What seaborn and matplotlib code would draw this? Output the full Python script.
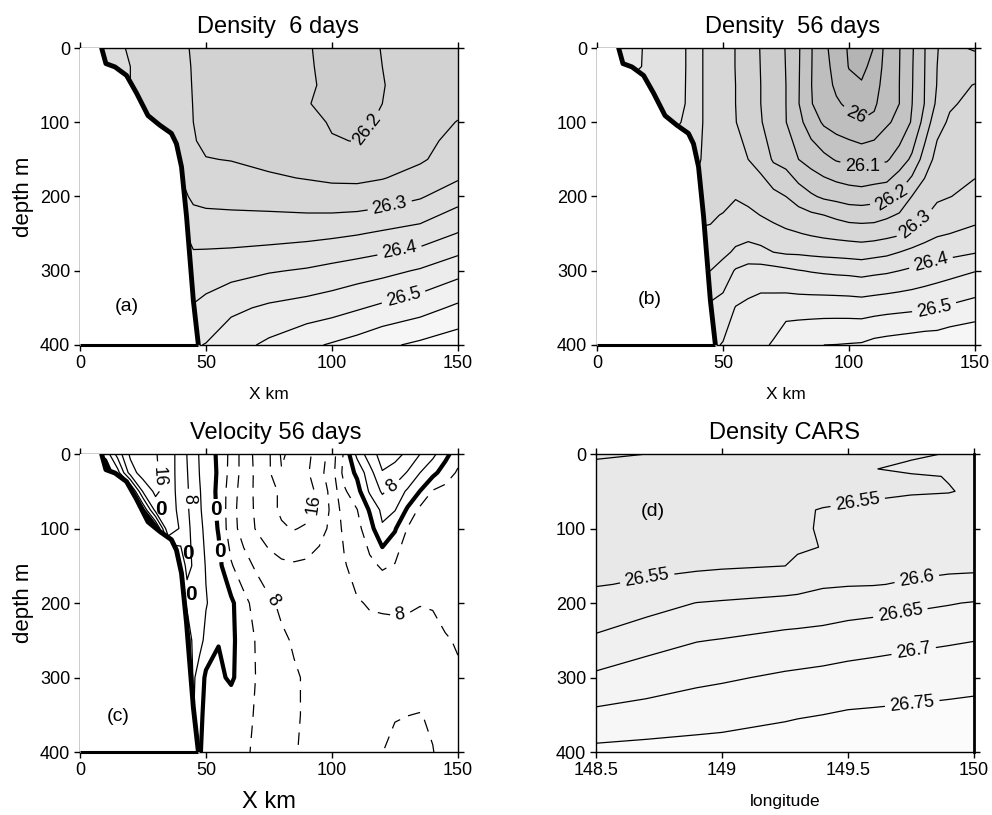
import numpy as np
import matplotlib
matplotlib.use("Agg")
import matplotlib.pyplot as plt
import seaborn as sns

sns.set_style("ticks")
plt.rcParams["font.family"] = ["Liberation Sans", "DejaVu Sans"]
plt.rcParams.update({"text.color": "black", "axes.labelcolor": "black",
                     "xtick.color": "black", "ytick.color": "black"})

# shelf / slope topography used by the model panels (x km, depth m)
COAST_X = [8.6, 10.3, 13.9, 18.5, 22.5, 27.0, 31.7, 36.3, 38.3, 40.3, 42.3, 45.0, 47.0]
COAST_D = [0, 21, 25.5, 37, 61, 91, 104, 115, 129, 160, 227, 340, 400]

# (a) density after 6 days, one row per depth
XA = [0, 10, 20, 30, 40, 45, 50, 60, 75, 90, 100, 110, 120, 135, 150]
ZA = [0, 25, 50, 75, 100, 125, 150, 175, 200, 250, 300, 350, 400]
RHO_A = [
    [26.33, 26.32, 26.295, 26.28, 26.26, 26.245, 26.235, 26.23, 26.22, 26.202, 26.193, 26.19, 26.201, 26.21, 26.22],
    [26.33, 26.32, 26.30, 26.28, 26.262, 26.247, 26.236, 26.23, 26.22, 26.203, 26.193, 26.19, 26.2, 26.21, 26.222],
    [26.34, 26.33, 26.30, 26.28, 26.263, 26.248, 26.238, 26.231, 26.222, 26.204, 26.194, 26.19, 26.199, 26.212, 26.225],
    [26.34, 26.335, 26.31, 26.285, 26.265, 26.249, 26.24, 26.233, 26.225, 26.201, 26.195, 26.192, 26.2, 26.215, 26.235],
    [26.35, 26.34, 26.33, 26.29, 26.27, 26.25, 26.242, 26.236, 26.228, 26.21, 26.197, 26.195, 26.203, 26.225, 26.252],
    [26.36, 26.35, 26.34, 26.31, 26.28, 26.252, 26.244, 26.238, 26.232, 26.215, 26.202, 26.199, 26.21, 26.238, 26.262],
    [26.37, 26.36, 26.35, 26.32, 26.29, 26.256, 26.251, 26.249, 26.24, 26.225, 26.215, 26.213, 26.22, 26.245, 26.27],
    [26.38, 26.37, 26.36, 26.33, 26.30, 26.27, 26.265, 26.26, 26.255, 26.248, 26.243, 26.242, 26.248, 26.265, 26.295],
    [26.39, 26.38, 26.37, 26.34, 26.315, 26.29, 26.285, 26.283, 26.28, 26.272, 26.268, 26.268, 26.275, 26.295, 26.33],
    [26.42, 26.41, 26.40, 26.38, 26.36, 26.335, 26.332, 26.33, 26.33, 26.335, 26.34, 26.347, 26.357, 26.37, 26.402],
    [26.45, 26.44, 26.43, 26.41, 26.39, 26.37, 26.375, 26.382, 26.396, 26.405, 26.415, 26.425, 26.435, 26.455, 26.483],
    [26.47, 26.46, 26.45, 26.43, 26.41, 26.404, 26.415, 26.44, 26.458, 26.47, 26.48, 26.495, 26.51, 26.53, 26.56],
    [26.48, 26.47, 26.46, 26.45, 26.44, 26.445, 26.452, 26.48, 26.51, 26.54, 26.555, 26.57, 26.59, 26.61, 26.63],
]

# (b) density after 56 days, one list per x column (surface -> bottom)
XB = [0, 10, 20, 30, 35, 40, 45, 50, 55, 60, 65, 70, 75, 80, 85, 90, 95, 100, 105, 110, 115, 120, 125, 130, 135, 140, 150]
ZB = [0, 25, 50, 75, 100, 150, 200, 225, 250, 275, 300, 350, 400]
RHO_B_COLS = [
    [26.43, 26.43, 26.42, 26.41, 26.40, 26.37, 26.35, 26.34, 26.34, 26.35, 26.37, 26.41, 26.44],
    [26.42, 26.41, 26.40, 26.39, 26.38, 26.35, 26.33, 26.32, 26.32, 26.34, 26.36, 26.41, 26.44],
    [26.395, 26.397, 26.39, 26.38, 26.37, 26.34, 26.31, 26.30, 26.30, 26.33, 26.35, 26.41, 26.44],
    [26.375, 26.375, 26.372, 26.37, 26.36, 26.33, 26.30, 26.29, 26.30, 26.32, 26.35, 26.41, 26.44],
    [26.352, 26.352, 26.351, 26.35, 26.345, 26.31, 26.29, 26.29, 26.30, 26.32, 26.35, 26.41, 26.44],
    [26.31, 26.31, 26.31, 26.31, 26.31, 26.305, 26.29, 26.29, 26.305, 26.32, 26.35, 26.41, 26.44],
    [26.285, 26.285, 26.285, 26.285, 26.285, 26.285, 26.29, 26.295, 26.305, 26.325, 26.35, 26.41, 26.44],
    [26.27, 26.27, 26.27, 26.27, 26.271, 26.275, 26.285, 26.302, 26.32, 26.339, 26.369, 26.421, 26.453],
    [26.249, 26.249, 26.25, 26.25, 26.251, 26.268, 26.297, 26.315, 26.334, 26.357, 26.405, 26.452, 26.47],
    [26.222, 26.223, 26.225, 26.228, 26.235, 26.25, 26.288, 26.31, 26.334, 26.371, 26.417, 26.461, 26.48],
    [26.198, 26.199, 26.2, 26.2, 26.202, 26.233, 26.277, 26.299, 26.327, 26.363, 26.42, 26.47, 26.49],
    [26.172, 26.173, 26.175, 26.178, 26.185, 26.194, 26.264, 26.288, 26.317, 26.35, 26.417, 26.472, 26.505],
    [26.148, 26.149, 26.15, 26.15, 26.151, 26.182, 26.25, 26.278, 26.308, 26.343, 26.41, 26.477, 26.54],
    [26.105, 26.104, 26.103, 26.102, 26.114, 26.15, 26.227, 26.269, 26.302, 26.342, 26.402, 26.478, 26.545],
    [26.053, 26.052, 26.051, 26.052, 26.075, 26.13, 26.207, 26.258, 26.295, 26.338, 26.397, 26.479, 26.548],
    [26.013, 26.018, 26.024, 26.032, 26.043, 26.113, 26.192, 26.25, 26.289, 26.335, 26.393, 26.48, 26.55],
    [25.975, 25.982, 25.99, 26.007, 26.028, 26.096, 26.185, 26.24, 26.284, 26.333, 26.39, 26.48, 26.551],
    [25.945, 25.948, 25.963, 25.989, 26.016, 26.089, 26.177, 26.23, 26.28, 26.33, 26.388, 26.479, 26.553],
    [25.935, 25.942, 25.953, 25.978, 26.004, 26.083, 26.174, 26.228, 26.277, 26.327, 26.384, 26.477, 26.555],
    [25.951, 25.96, 25.975, 25.99, 26.014, 26.089, 26.18, 26.23, 26.279, 26.333, 26.389, 26.481, 26.565],
    [26.02, 26.025, 26.03, 26.037, 26.044, 26.094, 26.185, 26.241, 26.286, 26.339, 26.393, 26.485, 26.57],
    [26.048, 26.049, 26.05, 26.05, 26.062, 26.123, 26.212, 26.255, 26.294, 26.35, 26.4, 26.488, 26.574],
    [26.094, 26.096, 26.097, 26.099, 26.105, 26.159, 26.251, 26.278, 26.311, 26.362, 26.408, 26.491, 26.578],
    [26.148, 26.149, 26.15, 26.151, 26.168, 26.222, 26.277, 26.296, 26.331, 26.37, 26.417, 26.495, 26.582],
    [26.199, 26.2, 26.202, 26.21, 26.235, 26.266, 26.293, 26.315, 26.344, 26.379, 26.426, 26.499, 26.583],
    [26.21, 26.222, 26.235, 26.245, 26.256, 26.278, 26.299, 26.323, 26.35, 26.385, 26.433, 26.507, 26.591],
    [26.195, 26.223, 26.252, 26.261, 26.27, 26.287, 26.312, 26.335, 26.3625, 26.397, 26.448, 26.52, 26.6],
]

# (c) along-shore velocity after 56 days, one row per depth (negative = dashed)
XC = [0, 10, 15, 20, 25, 30, 35, 40, 42.5, 45, 47.5, 50, 55, 60, 65, 70, 75, 80, 85, 90, 95,
      100, 105, 110, 115, 120, 125, 130, 135, 140, 145, 150]
ZC = [0, 25, 50, 75, 100, 150, 200, 250, 300, 350, 400]
VEL_C = [
    [-2, 1.0, 9.7, 16.8, 18.6, 16.3, 13.8, 10.4, 7.9, 5.7, 3.7, 2.3, -0.7, -5.2, -9.7, -13, -15.5, -20.5, -18.9, -17, -14.2,
     -10, -3.2, 5.2, 10.2, 13.5, 13.2, 11.3, 8.0, 5.0, 1.3, -2.5],
    [-2, -2, 2.5, 14, 18, 16.7, 13.6, 10.6, 8.2, 5.9, 3.9, 2.4, -0.5, -5.5, -9.5, -12.8, -15.5, -19.8, -18, -16.6, -13.4,
     -9.5, -2.5, 0.8, 6.5, 11.8, 10.5, 7.7, 4.0, 1.2, -2, -4.5],
    [-2, -2, -2, -2, 12.5, 17, 13.8, 10.6, 8.5, 6.3, 4.2, 2.7, -0.9, -6.2, -9.8, -12.8, -14.8, -16.6, -18.4, -17.5, -15,
     -10.5, -4.5, -1.5, 4.6, 8.6, 6.5, 3.4, -0.1, -4.3, -5.2, -6],
    [-2, -2, -2, -2, 0, 13.5, 14.2, 10.8, 8.6, 6.4, 4.4, 2.8, -0.7, -6.5, -10, -12.6, -15, -16.5, -17.5, -17.3, -14.8,
     -11.2, -6, -4.1, 0.4, 5, 4.2, -0.6, -5, -5.8, -6.2, -6.5],
    [-2, -2, -2, -2, -2, -2, 15.5, 11.4, 9.1, 6.8, 4.8, 3.2, -0.3, -6.4, -9.6, -12.3, -14.3, -15.6, -16.2, -15.5, -13.5,
     -11, -7, -5.2, -1.6, 3.5, 0.4, -4.2, -5.8, -6.2, -6.5, -6.8],
    [-2, -2, -2, -2, -2, -2, -2, 4.2, 9.5, 7.5, 5.5, 3.8, 1.2, -3.6, -6.5, -8.6, -10.2, -11.2, -11.5, -11.2, -10.3,
     -9.2, -8.3, -6.5, -5, -3.5, -4.3, -5.2, -5.8, -6.2, -6.5, -6.8],
    [-2, -2, -2, -2, -2, -2, -2, -2, 5.5, 7, 5.8, 4.2, 2.5, 0.8, -2.8, -5.5, -7.4, -8.6, -9.2, -9.4, -9.2,
     -9.0, -8.7, -8.3, -7.7, -7.6, -7.5, -7.6, -7.9, -7.8, -7.2, -6.9],
    [-2, -2, -2, -2, -2, -2, -2, -2, -2, 6, 5, 3.2, 0.2, 0.8, -1.8, -4.3, -6.2, -7.5, -8.3, -9.0, -9.6,
     -10, -10.2, -9.5, -9.2, -9.0, -9.0, -9.0, -9.0, -8.8, -8.2, -7.8],
    [-2, -2, -2, -2, -2, -2, -2, -2, -2, 4.5, 2.5, -0.8, -1.0, 0.8, -2.5, -4.1, -5.6, -6.8, -7.7, -8.3, -9.5,
     -10.3, -11, -10.8, -10.5, -10.5, -10.6, -10.6, -10.5, -10, -9.2, -8.3],
    [-2, -2, -2, -2, -2, -2, -2, -2, -2, 4.2, 1.5, -1.8, -2.6, -3.2, -3.7, -4.1, -5.5, -6.8, -7.6, -8.4, -9.6,
     -10.5, -11, -11, -11.2, -11.5, -11.8, -11.95, -12.1, -11.6, -10.5, -9.8],
    [-2, -2, -2, -2, -2, -2, -2, -2, -2, -2, 0.5, -2.0, -2.8, -3.4, -3.8, -4.2, -5.6, -6.9, -7.8, -8.5, -9.6,
     -10.5, -11, -11.3, -11.7, -11.95, -12.8, -13.5, -13.5, -12.1, -11, -10],
]

# (d) CARS climatology density, one list per longitude column
LON_D = [148.5, 148.7, 148.9, 149.0, 149.25, 149.3, 149.4, 149.5, 149.6, 149.75, 149.9, 150.0]
ZD = [0, 10, 20, 30, 50, 75, 100, 125, 150, 175, 200, 250, 300, 350, 400]
RHO_D_COLS = [
    [26.495, 26.502, 26.506, 26.51, 26.515, 26.52, 26.527, 26.534, 26.541, 26.548, 26.565, 26.608, 26.659, 26.711, 26.762],
    [26.5, 26.505, 26.508, 26.512, 26.517, 26.522, 26.528, 26.535, 26.543, 26.554, 26.581, 26.631, 26.675, 26.719, 26.766],
    [26.505, 26.508, 26.511, 26.514, 26.52, 26.526, 26.532, 26.539, 26.545, 26.562, 26.601, 26.648, 26.689, 26.729, 26.768],
    [26.507, 26.51, 26.513, 26.516, 26.521, 26.527, 26.533, 26.54, 26.546, 26.568, 26.605, 26.652, 26.694, 26.732, 26.77],
    [26.51, 26.513, 26.516, 26.519, 26.524, 26.53, 26.536, 26.542, 26.5497, 26.581, 26.612, 26.665, 26.707, 26.743, 26.78],
    [26.512, 26.515, 26.518, 26.52, 26.53, 26.545, 26.54, 26.545, 26.558, 26.585, 26.613, 26.667, 26.709, 26.746, 26.782],
    [26.515, 26.518, 26.52, 26.525, 26.535, 26.552, 26.556, 26.551, 26.57, 26.595, 26.618, 26.671, 26.713, 26.75, 26.785],
    [26.518, 26.522, 26.527, 26.532, 26.542, 26.554, 26.566, 26.575, 26.587, 26.597, 26.626, 26.677, 26.718, 26.755, 26.79],
    [26.525, 26.535, 26.549, 26.54, 26.545, 26.556, 26.567, 26.578, 26.588, 26.598, 26.63, 26.682, 26.721, 26.757, 26.79],
    [26.54, 26.552, 26.557, 26.546, 26.548, 26.558, 26.568, 26.579, 26.59, 26.604, 26.639, 26.689, 26.726, 26.76, 26.792],
    [26.553, 26.558, 26.556, 26.551, 26.549, 26.56, 26.57, 26.58, 26.592, 26.61, 26.647, 26.695, 26.73, 26.764, 26.795],
    [26.556, 26.56, 26.562, 26.558, 26.553, 26.561, 26.572, 26.582, 26.594, 26.61, 26.653, 26.699, 26.733, 26.767, 26.8],
]

RHO_LEVELS = np.round(np.arange(25.85, 26.86, 0.05), 2)
VEL_LEVELS = np.arange(-24, 25, 4)

# contour label anchor points (x, depth); the nearest contour gets the label
LAB_A = [(114.3, 110.8), (122.9, 211.7), (126.9, 274.4), (128.2, 332.7)]
LAB_B = [(102.8, 90.6), (105.4, 160), (117.3, 205), (127.2, 241), (133.2, 297), (133.9, 350.7)]
LAB_C_POS = [(31, 30), (43, 60), (123, 40)]
LAB_C_NEG = [(94, 68), (77, 195), (127, 215)]
LAB_C_ZERO = [(53.5, 75), (54.5, 131)]
ZERO_TXT_C = [(32, 75), (43, 133), (44, 188)]
LAB_D = [(149.537, 61.3), (148.705, 172), (149.775, 172), (149.709, 215.7), (149.762, 267), (149.755, 335)]


def fmt(v):
    return f"{abs(v):g}"


def band_greys(levels, ref, g_ref, slope):
    # grey shade of each filled band, lighter for denser water
    mids = (levels[:-1] + levels[1:]) / 2
    g = np.clip(g_ref + (mids - ref) * slope, 0, 0.985)
    return [(v, v, v) for v in g]


def style_axes(ax, xticks, xlim):
    ax.set_xlim(*xlim)
    ax.set_ylim(400, 0)
    ax.set_xticks(xticks)
    ax.set_xticklabels([f"{t:g}" for t in xticks])
    ax.set_yticks([0, 100, 200, 300, 400])
    ax.tick_params(direction="out", length=4, width=1, top=True, right=True,
                   labelsize=13, pad=3, colors="black")
    for s in ax.spines.values():
        s.set_linewidth(1)
        s.set_color("black")


def add_land(ax):
    ax.fill_betweenx(COAST_D, 0, COAST_X, color="white", zorder=3)
    sns.lineplot(x=COAST_X, y=COAST_D, sort=False, estimator=None, color="black",
                 linewidth=3.5, ax=ax, zorder=4)
    ax.hlines(max(COAST_D), 0, COAST_X[-1], color="black", linewidth=2.2, zorder=4, clip_on=False)


def density_panel(ax, x, z, field, label_pos, greys):
    ax.contourf(x, z, field, levels=RHO_LEVELS, colors=greys, zorder=1)
    cs = ax.contour(x, z, field, levels=RHO_LEVELS, colors="black", linewidths=0.9,
                    linestyles="solid", zorder=2)
    ax.clabel(cs, manual=label_pos, inline=True, fontsize=13, fmt=fmt)
    return cs


model_greys = band_greys(RHO_LEVELS, 26.225, 0.825, 0.4)
cars_greys = band_greys(RHO_LEVELS, 26.525, 0.91, 0.3)

fig = plt.figure(figsize=(9.92, 8.15), dpi=100)
ax_a = fig.add_axes([0.0806, 0.5767, 0.381, 0.3644])
ax_b = fig.add_axes([0.6018, 0.5767, 0.381, 0.3644])
ax_c = fig.add_axes([0.0806, 0.0773, 0.381, 0.3656])
ax_d = fig.add_axes([0.6008, 0.0773, 0.381, 0.3656])

# axes first, so that label angles are worked out on the final (inverted) axes
for ax in (ax_a, ax_b, ax_c):
    style_axes(ax, [0, 50, 100, 150], (0, 150))
style_axes(ax_d, [148.5, 149, 149.5, 150], (148.5, 150))

# (a)
density_panel(ax_a, XA, ZA, np.array(RHO_A), LAB_A, model_greys)
add_land(ax_a)
ax_a.set_xlim(0, 150)
ax_a.set_ylim(400, 0)
ax_a.set_title("Density  6 days", fontsize=17, pad=11, x=0.525)
ax_a.set_ylabel("depth m", fontsize=16, labelpad=4)
ax_a.set_xlabel("X km", fontsize=12.5, labelpad=11)
ax_a.text(18.5, 348, "(a)", fontsize=14, ha="center", va="center", zorder=5)

# (b)
density_panel(ax_b, XB, ZB, np.array(RHO_B_COLS).T, LAB_B, model_greys)
add_land(ax_b)
ax_b.set_xlim(0, 150)
ax_b.set_ylim(400, 0)
ax_b.set_title("Density  56 days", fontsize=17, pad=11, x=0.517)
ax_b.set_xlabel("X km", fontsize=12.5, labelpad=11)
ax_b.text(20.8, 339, "(b)", fontsize=14, ha="center", va="center", zorder=5)

# (c)
vel = np.array(VEL_C)
neg = VEL_LEVELS[VEL_LEVELS < 0]
pos = VEL_LEVELS[VEL_LEVELS > 0]
cs_neg = ax_c.contour(XC, ZC, vel, levels=neg, colors="black", linewidths=0.9,
                      linestyles=[(0, (10, 7))], zorder=2)
cs_pos = ax_c.contour(XC, ZC, vel, levels=pos, colors="black", linewidths=0.9,
                      linestyles="solid", zorder=2)
cs_zero = ax_c.contour(XC, ZC, vel, levels=[0], colors="black", linewidths=3.0,
                       linestyles="solid", zorder=2)
ax_c.clabel(cs_pos, manual=LAB_C_POS, inline=True, fontsize=13, fmt=fmt)
ax_c.clabel(cs_neg, manual=LAB_C_NEG, inline=True, fontsize=13, fmt=fmt)
zero_txt = ax_c.clabel(cs_zero, manual=LAB_C_ZERO, inline=True, fontsize=15, fmt=fmt)
for t in zero_txt:
    t.set_fontweight("bold")
    t.set_rotation(0)
add_land(ax_c)
ax_c.set_xlim(0, 150)
ax_c.set_ylim(400, 0)
for zx, zz in ZERO_TXT_C:
    ax_c.text(zx, zz, "0", fontsize=15, fontweight="bold", ha="center", va="center", zorder=5)
ax_c.set_title("Velocity 56 days", fontsize=17, pad=11, x=0.518)
ax_c.set_ylabel("depth m", fontsize=16, labelpad=4)
ax_c.set_xlabel("X km", fontsize=17, labelpad=9)
ax_c.text(15.2, 352, "(c)", fontsize=14, ha="center", va="center", zorder=5)

# (d)
density_panel(ax_d, LON_D, ZD, np.array(RHO_D_COLS).T, LAB_D, cars_greys)
ax_d.set_xlim(148.5, 150)
ax_d.set_ylim(400, 0)
ax_d.spines["right"].set_linewidth(2)
ax_d.set_title("Density CARS", fontsize=17, pad=11)
ax_d.set_xlabel("longitude", fontsize=12.5, labelpad=11)
ax_d.text(148.725, 77, "(d)", fontsize=14, ha="center", va="center", zorder=5)

fig.savefig("out.png", dpi=100)
